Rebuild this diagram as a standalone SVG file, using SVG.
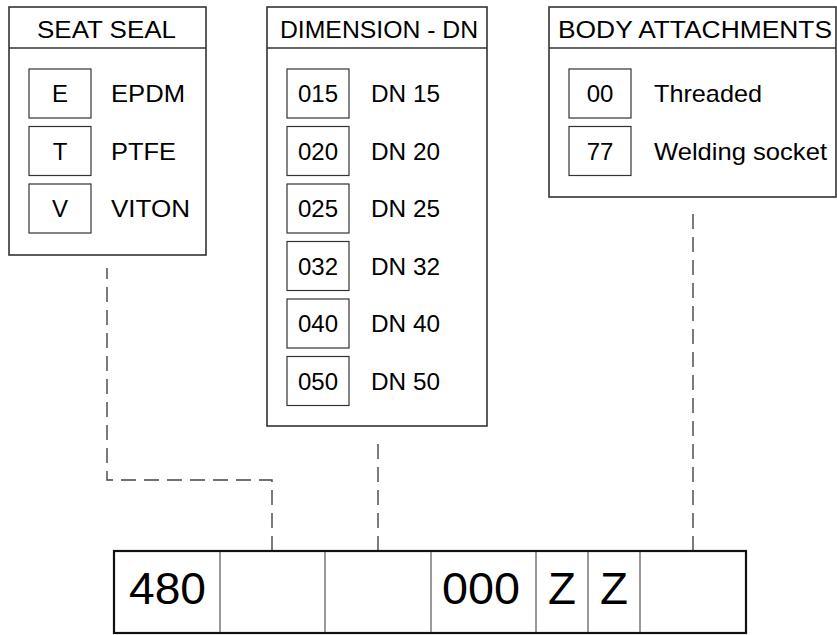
<svg xmlns="http://www.w3.org/2000/svg" width="837" height="635" viewBox="0 0 837 635">
<style>
.panel{fill:#fff;stroke:#333;stroke-width:1.6}
.hdr{stroke:#333;stroke-width:1.3}
.cell{fill:#fff;stroke:#333;stroke-width:1.2}
text{font-family:"Liberation Sans",Arial,sans-serif;fill:#000}
.t{font-size:23px}
.i{font-size:24px}
.c{font-size:24px;text-anchor:middle}
.big{font-size:44px;text-anchor:middle}
.conn{fill:none;stroke:#444;stroke-width:1.4;stroke-dasharray:15 8}
.div{stroke:#555;stroke-width:1.2}
</style>
<g id="connectors">
<path class="conn" d="M272,551 V480 H107 V268"/>
<path class="conn" d="M378,551 V440"/>
<path class="conn" d="M693,551 V210"/>
</g>
<g id="seat-seal">
<rect class="panel" x="9" y="7" width="197" height="248"/>
<line class="hdr" x1="9" y1="48" x2="206" y2="48"/>
<text class="t" x="37" y="37.5" textLength="139" lengthAdjust="spacingAndGlyphs">SEAT SEAL</text>
<rect class="cell" x="29" y="69" width="62" height="49"/>
<text class="c" x="60" y="102">E</text>
<text class="i" x="111" y="102" textLength="74" lengthAdjust="spacingAndGlyphs">EPDM</text>
<rect class="cell" x="29" y="126.5" width="62" height="49"/>
<text class="c" x="60" y="159.5">T</text>
<text class="i" x="111" y="159.5" textLength="65" lengthAdjust="spacingAndGlyphs">PTFE</text>
<rect class="cell" x="29" y="184" width="62" height="49"/>
<text class="c" x="60" y="217">V</text>
<text class="i" x="111" y="217" textLength="79" lengthAdjust="spacingAndGlyphs">VITON</text>
</g>
<g id="dimension-dn">
<rect class="panel" x="267" y="7" width="220" height="419"/>
<line class="hdr" x1="267" y1="48" x2="487" y2="48"/>
<text class="t" x="280" y="37.5" textLength="198" lengthAdjust="spacingAndGlyphs">DIMENSION - DN</text>
<rect class="cell" x="287" y="69" width="62" height="49"/>
<text class="c" x="318" y="102">015</text>
<text class="i" x="371" y="102" textLength="69" lengthAdjust="spacingAndGlyphs">DN 15</text>
<rect class="cell" x="287" y="126.5" width="62" height="49"/>
<text class="c" x="318" y="159.5">020</text>
<text class="i" x="371" y="159.5" textLength="69" lengthAdjust="spacingAndGlyphs">DN 20</text>
<rect class="cell" x="287" y="184" width="62" height="49"/>
<text class="c" x="318" y="217">025</text>
<text class="i" x="371" y="217" textLength="69" lengthAdjust="spacingAndGlyphs">DN 25</text>
<rect class="cell" x="287" y="241.5" width="62" height="49"/>
<text class="c" x="318" y="274.5">032</text>
<text class="i" x="371" y="274.5" textLength="69" lengthAdjust="spacingAndGlyphs">DN 32</text>
<rect class="cell" x="287" y="299" width="62" height="49"/>
<text class="c" x="318" y="332">040</text>
<text class="i" x="371" y="332" textLength="69" lengthAdjust="spacingAndGlyphs">DN 40</text>
<rect class="cell" x="287" y="356.5" width="62" height="49"/>
<text class="c" x="318" y="389.5">050</text>
<text class="i" x="371" y="389.5" textLength="69" lengthAdjust="spacingAndGlyphs">DN 50</text>
</g>
<g id="body-attachments">
<rect class="panel" x="549" y="7" width="287" height="190"/>
<line class="hdr" x1="549" y1="48" x2="836" y2="48"/>
<text class="t" x="558" y="37.5" textLength="274" lengthAdjust="spacingAndGlyphs">BODY ATTACHMENTS</text>
<rect class="cell" x="569" y="69" width="62" height="49"/>
<text class="c" x="600" y="102">00</text>
<text class="i" x="654" y="102" textLength="108" lengthAdjust="spacingAndGlyphs">Threaded</text>
<rect class="cell" x="569" y="126.5" width="62" height="49"/>
<text class="c" x="600" y="159.5">77</text>
<text class="i" x="654" y="159.5" textLength="173" lengthAdjust="spacingAndGlyphs">Welding socket</text>
</g>
<g id="code-bar">
<rect x="114" y="551" width="632" height="82" fill="#fff" stroke="#111" stroke-width="2.2"/>
<line class="div" x1="220" y1="552" x2="220" y2="632"/>
<line class="div" x1="325" y1="552" x2="325" y2="632"/>
<line class="div" x1="431" y1="552" x2="431" y2="632"/>
<line class="div" x1="536" y1="552" x2="536" y2="632"/>
<line class="div" x1="588" y1="552" x2="588" y2="632"/>
<line class="div" x1="640" y1="552" x2="640" y2="632"/>
<text class="big" x="167.5" y="603.5" textLength="77" lengthAdjust="spacingAndGlyphs">480</text>
<text class="big" x="481" y="603.5" textLength="78" lengthAdjust="spacingAndGlyphs">000</text>
<text class="big" x="562" y="603.5" textLength="28" lengthAdjust="spacingAndGlyphs">Z</text>
<text class="big" x="614" y="603.5" textLength="28" lengthAdjust="spacingAndGlyphs">Z</text>
</g>
</svg>
